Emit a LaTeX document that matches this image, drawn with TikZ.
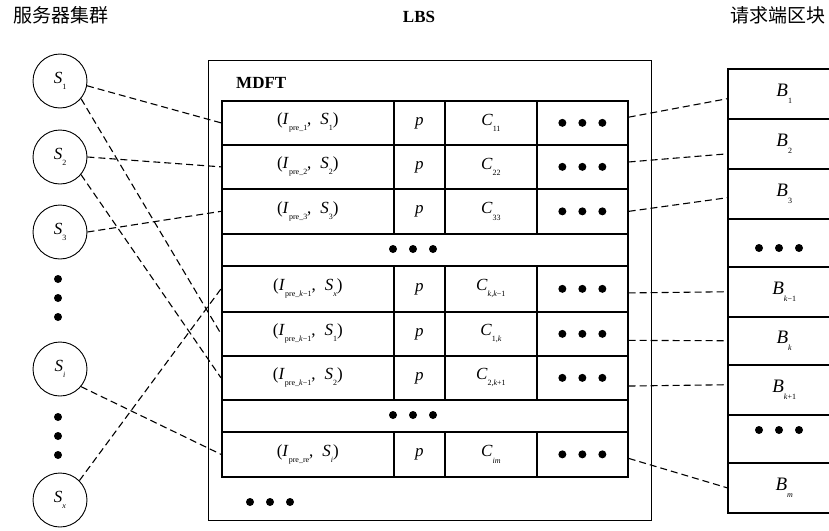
\documentclass[tikz,border=0pt]{standalone}
\usepackage{fontspec}
\setmainfont{Liberation Serif}
\newfontfamily\cjk{Noto Sans CJK SC}
\newcommand\sbs[1]{\raisebox{-0.36em}{\fontsize{8}{9}\selectfont #1}}
\newcommand\myit[2]{\textit{#1}\sbs{#2}}
\newcommand\mypair[2]{(\myit{I}{#1},\hspace{9pt}\myit{S}{#2})}
\newcommand\mytrow[5]{%
  \node[cell, minimum width=172pt, minimum height=#3pt] (#1a) at (221,#2) {#4};
  \node[cell, minimum width=51pt, minimum height=#3pt] (#1b) at (393,#2) {\textit{p}};
  \node[cell, minimum width=92pt, minimum height=#3pt] (#1c) at (444,#2) {#5};
  \node[cell, minimum width=91pt, minimum height=#3pt] (#1d) at (536,#2) {};
  \pic at (#1d.center) {tdots};}
\begin{document}
\begin{tikzpicture}[x=1pt,y=-1pt,
  cell/.style={draw, line width=1.7pt, inner sep=0pt, anchor=north west, font=\fontsize{17}{19}\selectfont},
  srv/.style={draw, circle, line width=0.9pt, minimum size=54pt, inner sep=0pt, font=\fontsize{17}{19}\selectfont},
  blk/.style={draw, line width=1.5pt, inner sep=0pt, anchor=north west, minimum width=113pt, font=\fontsize{19}{21}\selectfont},
  conn/.style={line width=1.1pt, dash pattern=on 7pt off 4pt},
  ttl/.style={font=\cjk\fontsize{19}{21}\selectfont},
  tdots/.pic={\fill (-20pt,0pt) circle (4pt); \fill (0pt,0pt) circle (4pt); \fill (20pt,0pt) circle (4pt);},
  vdots/.pic={\fill (0pt,-19pt) circle (4pt); \fill (0pt,0pt) circle (4pt); \fill (0pt,19pt) circle (4pt);},
]
\useasboundingbox (0,0) rectangle (829,530);
% titles
\node[ttl] (t1) at (61,15) {服务器集群};
\node[font=\bfseries\fontsize{17}{19}\selectfont] (t2) at (419,17) {LBS};
\node[ttl] (t3) at (778,15) {请求端区块};
% LBS box
\node[draw, line width=1.2pt, minimum width=443pt, minimum height=460pt, inner sep=0pt, anchor=north west] (lbs) at (208,60) {};
\node[font=\bfseries\fontsize{17}{19}\selectfont, anchor=west, inner sep=0pt] (mdft) at (236,83) {MDFT};
% table
\mytrow{r1}{100}{44}{\mypair{pre\_1}{1}}{\myit{C}{11}}
\mytrow{r2}{144}{44}{\mypair{pre\_2}{2}}{\myit{C}{22}}
\mytrow{r3}{188}{45}{\mypair{pre\_3}{3}}{\myit{C}{33}}
\node[cell, minimum width=406pt, minimum height=32pt] (dr1) at (221,233) {};
\coordinate (dc1) at (413,249);
\pic at (dc1) {tdots};
\mytrow{r4}{265}{46}{\mypair{pre\_\textit{k}−1}{\textit{x}}}{\myit{C}{\textit{k},\textit{k}−1}}
\mytrow{r5}{311}{44}{\mypair{pre\_\textit{k}−1}{1}}{\myit{C}{1,\textit{k}}}
\mytrow{r6}{355}{44}{\mypair{pre\_\textit{k}−1}{2}}{\myit{C}{2,\textit{k}+1}}
\node[cell, minimum width=406pt, minimum height=32pt] (dr2) at (221,399) {};
\coordinate (dc2) at (413,415);
\pic at (dc2) {tdots};
\mytrow{r7}{431}{45}{\mypair{pre\_re}{\textit{i}}}{\myit{C}{\textit{im}}}
\coordinate (dc3) at (270,502);
\pic at (dc3) {tdots};
% servers
\node[srv] (s1) at (60,81) {\myit{S}{1}};
\node[srv] (s2) at (60,157) {\myit{S}{2}};
\node[srv] (s3) at (60,232) {\myit{S}{3}};
\coordinate (vd1) at (58,298);
\pic at (vd1) {vdots};
\node[srv] (si) at (60,369) {\myit{S}{\textit{i}}};
\coordinate (vd2) at (58,436);
\pic at (vd2) {vdots};
\node[srv] (sx) at (60,500) {\myit{S}{\textit{x}}};
% blocks
\node[blk, minimum height=50pt] (b1) at (727,68) {\myit{B}{1}};
\node[blk, minimum height=50pt] (b2) at (727,118) {\myit{B}{2}};
\node[blk, minimum height=50pt] (b3) at (727,168) {\myit{B}{3}};
\node[blk, minimum height=48pt] (bd1) at (727,218) {};
\coordinate (bc1) at (779,248);
\pic at (bc1) {tdots};
\node[blk, minimum height=50pt] (b4) at (727,266) {\myit{B}{\textit{k}−1}};
\node[blk, minimum height=48pt] (b5) at (727,316) {\myit{B}{\textit{k}}};
\node[blk, minimum height=50pt] (b6) at (727,364) {\myit{B}{\textit{k}+1}};
\node[blk, minimum height=48pt] (bd2) at (727,414) {};
\coordinate (bc2) at (779,430);
\pic at (bc2) {tdots};
\node[blk, minimum height=50pt] (b7) at (727,462) {\myit{B}{\textit{m}}};
% connectors left
\draw[conn] (s1.-10) -- (r1a.west);
\draw[conn] (s2.east) -- (r2a.west);
\draw[conn] (s3.east) -- (r3a.west);
\draw[conn] (s1.-40) -- (r5a.west);
\draw[conn] (s2.-40) -- (r6a.west);
\draw[conn] (sx.45) -- (r4a.west);
\draw[conn] (si.-40) -- (r7a.west);
% connectors right
\draw[conn] (r1d.7) -- (b1.185);
\draw[conn] (r2d.6) -- (b2.190);
\draw[conn] (r3d.east) -- (b3.184);
\draw[conn] (r4d.-5) -- (b4.west);
\draw[conn] (r5d.-8) -- (b5.west);
\draw[conn] (r6d.-10) -- (b6.175);
\draw[conn] (r7d.-5) -- (b7.west);
\end{tikzpicture}
\end{document}
